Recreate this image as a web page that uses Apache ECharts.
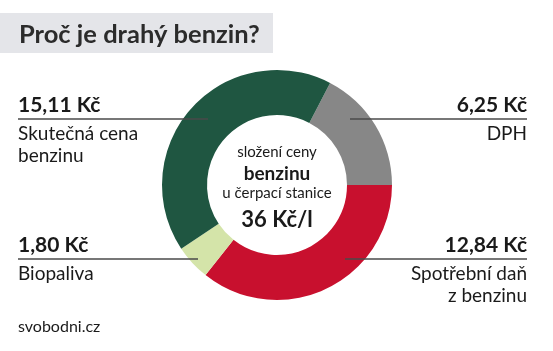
<!DOCTYPE html>
<html><head><meta charset="utf-8">
<script src="https://cdn.jsdelivr.net/npm/echarts@6/dist/echarts.min.js"></script>
<style>html,body{margin:0;padding:0;background:#fff}#c{width:553px;height:351px}</style>
</head><body><div id="c"></div>
<script>
var categories = ['DPH', 'Spotřební daň z benzinu', 'Biopaliva', 'Skutečná cena benzinu'];
var values = [6.25, 12.84, 1.80, 15.11];
var valueLabels = ['6,25 Kč', '12,84 Kč', '1,80 Kč', '15,11 Kč'];
var nameLines = [['DPH'], ['Spotřební daň', 'z benzinu'], ['Biopaliva'], ['Skutečná cena', 'benzinu']];
var colors = ['#878787', '#c8102e', '#d4e4a9', '#1f5641'];
var title = 'Proč je drahý benzin?';
var centerLines = ['složení ceny', 'benzinu', 'u čerpací stanice', '36 Kč/l'];
var source = 'svobodni.cz';

var FONT = 'Lato, "Noto Sans", sans-serif';
var total = values.reduce(function(a,b){return a+b;},0);
var chart = echarts.init(document.getElementById('c'), null, {renderer:'canvas'});

function txt(x, baseline, text, size, bold, align) {
  return {type:'text', x:x, y:baseline - Math.round(size*0.8),
    style:{text:text, font:(bold?'bold ':'')+size+'px '+FONT, fill:'#1a1a1a', textAlign:align||'left', textVerticalAlign:'top'}, z:20};
}

var layout = [
  {side:'right', vy:112, ly:119, x1:350, x2:527},
  {side:'right', vy:252, ly:259, x1:345, x2:527},
  {side:'left',  vy:252, ly:259, x1:18,  x2:198},
  {side:'left',  vy:112, ly:119, x1:18,  x2:208}
];
var graphics = [];
graphics.push({type:'rect', shape:{x:0,y:13,width:273,height:40}, style:{fill:'#e4e5e9'}, z:1});
var t = txt(19, 42, title, 25.5, true, 'left'); t.style.fill = '#2b2b2b'; graphics.push(t);
layout.forEach(function(L, i){
  var tx = L.side==='left' ? L.x1 : L.x2;
  var align = L.side==='left' ? 'left' : 'right';
  graphics.push({type:'line', shape:{x1:L.x1,y1:L.ly,x2:L.x2,y2:L.ly}, style:{stroke:'#4a4a4a', lineWidth:1.5}, z:20});
  graphics.push(txt(tx, L.vy, valueLabels[i], 21, true, align));
  nameLines[i].forEach(function(s, j){
    graphics.push(txt(tx, L.vy+27+j*22, s, 19, false, align));
  });
});
var csizes = [15, 19, 15, 22];
var cbold = [false, true, false, true];
var cys = [157, 179, 198, 227];
centerLines.forEach(function(s, j){
  graphics.push(txt(277, cys[j], s, csizes[j], cbold[j], 'center'));
});
graphics.push(txt(18, 332, source, 16, false, 'left'));

chart.setOption({
  animation:false,
  backgroundColor:'#ffffff',
  series:[{
    type:'pie',
    center:[277,185],
    radius:[70,115],
    startAngle: 360*values[0]/total,
    clockwise:true,
    label:{show:false},
    labelLine:{show:false},
    silent:true,
    itemStyle:{borderWidth:0},
    data: categories.map(function(c,i){return {name:c, value:values[i], itemStyle:{color:colors[i]}};})
  }],
  graphic: graphics
});
</script></body></html>
